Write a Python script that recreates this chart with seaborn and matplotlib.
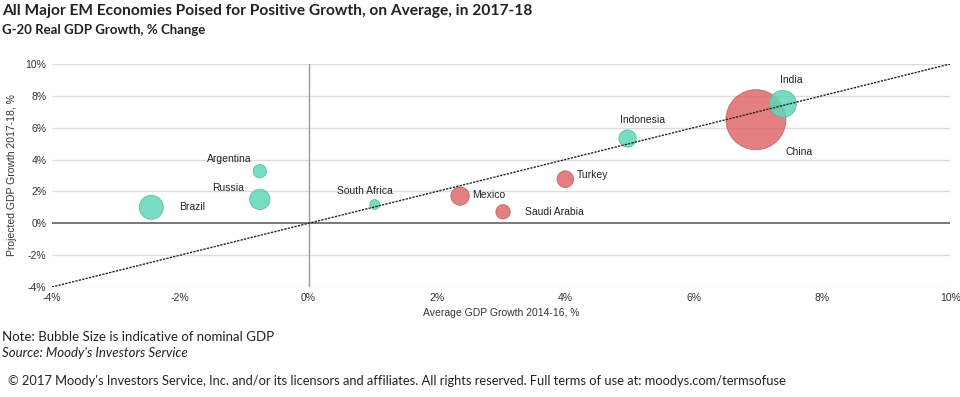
import matplotlib
matplotlib.use("Agg")
import matplotlib.pyplot as plt
import seaborn as sns
import pandas as pd
from matplotlib.ticker import FuncFormatter
from matplotlib.colors import to_rgb

# data
countries = ["Brazil", "Argentina", "Russia", "South Africa", "Mexico",
             "Saudi Arabia", "Turkey", "Indonesia", "China", "India"]
avg_growth_2014_16 = [-2.45, -0.76, -0.76, 1.03, 2.36, 3.03, 4.00, 4.97, 6.97, 7.39]
proj_growth_2017_18 = [1.00, 3.27, 1.50, 1.18, 1.71, 0.72, 2.77, 5.32, 6.50, 7.49]
nominal_gdp = [1.80, 0.55, 1.28, 0.30, 1.05, 0.64, 0.86, 0.93, 11.2, 2.27]
outlook = ["up", "up", "up", "up", "down", "down", "down", "up", "down", "up"]
diag = [-4, 10]
x_ticks = [-4, -2, 0, 2, 4, 6, 8, 10]
y_ticks = [-4, -2, 0, 2, 4, 6, 8, 10]

colors = {"up": "#5fd6b6", "down": "#e06a6c"}

# label offsets in points (layout only)
label_offsets = {
    "Brazil": (20, 0, "left"), "Argentina": (-22, 9, "center"),
    "Russia": (-23, 8, "center"), "South Africa": (-7, 10, "center"),
    "Mexico": (9, 1, "left"), "Saudi Arabia": (16, 0, "left"),
    "Turkey": (8, 3, "left"), "Indonesia": (11, 13, "center"),
    "China": (31, -23, "center"), "India": (6, 17, "center"),
}

df = pd.DataFrame({"country": countries, "avg": avg_growth_2014_16,
                   "proj": proj_growth_2017_18, "gdp": nominal_gdp, "outlook": outlook})

sns.set_style("white")
plt.rcParams["font.family"] = ["Liberation Sans", "DejaVu Sans"]

fig = plt.figure(figsize=(9.6, 3.97), dpi=100)
ax = fig.add_axes([0.054, 0.277, 0.936, 0.562])

for y in y_ticks:
    if y != 0:
        ax.axhline(y, color="#dcdcdc", lw=0.9, zorder=0)
ax.axhline(0, color="#6e6e6e", lw=1.3, zorder=1)
ax.axvline(0, color="#9a9a9a", lw=1.0, zorder=1)

sns.lineplot(x=diag, y=diag, ax=ax, color="#222222", lw=1.0,
             zorder=4, legend=False).lines[-1].set_dashes((1.6, 0.9))

max_s = (0.72 * 60) ** 2
sns.scatterplot(data=df, x="avg", y="proj", hue="outlook", size="gdp",
                palette=colors, sizes=(0, max_s), size_norm=(0, max(nominal_gdp)),
                alpha=0.85, linewidth=0.6, legend=False, ax=ax, zorder=3)
edge = [tuple(v * 0.85 for v in to_rgb(colors[o])) for o in outlook]
ax.collections[-1].set_edgecolors(edge)

for c, x, y in zip(countries, avg_growth_2014_16, proj_growth_2017_18):
    dx, dy, ha = label_offsets[c]
    ax.annotate(c, (x, y), xytext=(dx, dy), textcoords="offset points",
                ha=ha, va="center", fontsize=7.5, color="#222222")

ax.set_xlim(-4, 10)
ax.set_ylim(-4, 10)
ax.set_xticks(x_ticks)
ax.set_yticks(y_ticks)
pct = FuncFormatter(lambda v, p: f"{v:.0f}%")
ax.xaxis.set_major_formatter(pct)
ax.yaxis.set_major_formatter(pct)
ax.tick_params(axis="both", length=0, labelsize=7.5, labelcolor="#333333", pad=4)
sns.despine(ax=ax, left=True, bottom=True)
ax.set_xlabel("Average GDP Growth 2014-16, %", fontsize=7.5, color="#333333", labelpad=4)
ax.set_ylabel("Projected GDP Growth 2017-18, %", fontsize=7.5, color="#333333", labelpad=6)

lato = ["Lato", "DejaVu Sans"]
fig.text(0.002, 0.972, "All Major EM Economies Poised for Positive Growth, on Average, in 2017-18",
         fontsize=11.2, fontweight="bold", family=lato, color="#222222", va="center")
fig.text(0.002, 0.924, "G-20 Real GDP Growth, % Change",
         fontsize=9.5, fontweight="bold", family=lato, color="#222222", va="center")
fig.text(0.002, 0.151, "Note: Bubble Size is indicative of nominal GDP",
         fontsize=9.5, family=lato, color="#222222", va="center")
fig.text(0.002, 0.110, "Source: Moody's Investors Service",
         fontsize=9.5, style="italic", family=lato, color="#222222", va="center")
fig.text(0.008, 0.040, "\u00a9 2017 Moody's Investors Service, Inc. and/or its licensors and affiliates. "
         "All rights reserved. Full terms of use at: moodys.com/termsofuse",
         fontsize=9.3, family=lato, color="#222222", va="center")

fig.savefig("out.png", dpi=100)
